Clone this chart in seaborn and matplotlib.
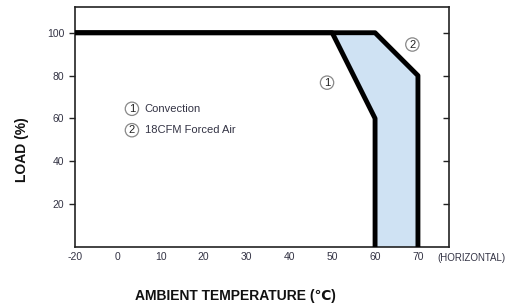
import numpy as np
import pandas as pd
import matplotlib
matplotlib.use('Agg')
import matplotlib.pyplot as plt
import seaborn as sns

# derating curves (ambient temperature vs load)
temp_conv = [-20, 50, 60, 60]
load_conv = [100, 100, 60, 0]
temp_air = [-20, 60, 70, 70]
load_air = [100, 100, 80, 0]

x_ticks = [-20, 0, 10, 20, 30, 40, 50, 60, 70]
y_ticks = [20, 40, 60, 80, 100]
legend_labels = ['Convection', '18CFM Forced Air']

sns.set_style('white')
plt.rcParams['font.family'] = ['Liberation Sans', 'DejaVu Sans']
plt.rcParams['axes.unicode_minus'] = False

fig = plt.figure(figsize=(5.06, 3.06), dpi=100)
ax = fig.add_axes([0.148, 0.193, 0.739, 0.784])

# the chart squeezes -20..0 into one tick step
def fwd(x):
    x = np.asarray(x, dtype=float)
    return np.where(x < 0, x / 2, x)

def inv(x):
    x = np.asarray(x, dtype=float)
    return np.where(x < 0, x * 2, x)

ax.set_xscale('function', functions=(fwd, inv))

# shaded area between the two curves
poly_x = temp_air[1:] + temp_conv[::-1][:-1]
poly_y = load_air[1:] + load_conv[::-1][:-1]
ax.fill(poly_x, poly_y, color='#cfe2f3', zorder=1)

df_conv = pd.DataFrame({'temp': temp_conv, 'load': load_conv})
df_air = pd.DataFrame({'temp': temp_air, 'load': load_air})
sns.lineplot(data=df_conv, x='temp', y='load', sort=False, estimator=None,
             color='black', linewidth=3.5, ax=ax, zorder=3)
sns.lineplot(data=df_air, x='temp', y='load', sort=False, estimator=None,
             color='black', linewidth=3.5, ax=ax, zorder=3)

ax.set_xlim(-20, 77.2)
ax.set_ylim(0, 112)

for s in ax.spines.values():
    s.set_color('#222222')
    s.set_linewidth(1.2)

ax.set_xticks(x_ticks)
ax.set_xticklabels([str(t) for t in x_ticks])
ax.minorticks_off()
ax.set_yticks(y_ticks)
ax.tick_params(axis='x', direction='in', length=4, width=1, colors='#222222',
               labelsize=7.5, labelcolor='#333344', pad=4)
ax.tick_params(axis='y', direction='out', length=4, width=1, colors='#222222',
               labelsize=7.5, labelcolor='#333344', left=True, right=False)
# right-side ticks pointing inward
ax2 = ax.secondary_yaxis('right')
ax2.set_yticks(y_ticks)
ax2.tick_params(direction='in', length=4, width=1, colors='#222222', labelright=False)
ax2.spines['right'].set_visible(False)

ax.set_xlabel('')
ax.set_ylabel('')

circ = dict(boxstyle='circle,pad=0.15', fc='white', ec='#888888', lw=0.9)
ax.text(3.3, 64.5, '1', fontsize=8, ha='center', va='center', bbox=circ, color='#222222')
ax.text(3.3, 54.5, '2', fontsize=8, ha='center', va='center', bbox=circ, color='#222222')
ax.text(6.3, 64.5, legend_labels[0], fontsize=8, ha='left', va='center', color='#333344')
ax.text(6.3, 54.5, legend_labels[1], fontsize=8, ha='left', va='center', color='#333344')
ax.text(48.8, 76.7, '1', fontsize=8, ha='center', va='center', bbox=circ, color='#222222')
ax.text(68.7, 94.5, '2', fontsize=8, ha='center', va='center', bbox=circ, color='#222222')

fig.text(437 / 506, 1 - 258 / 306, '(HORIZONTAL)', fontsize=7, ha='left', va='center',
         color='#333344')
fig.text(235 / 506, 1 - 296 / 306, 'AMBIENT TEMPERATURE (℃)', fontsize=10, fontweight='bold',
         ha='center', va='center', color='#111111')
fig.text(22 / 506, 1 - 150 / 306, 'LOAD (%)', fontsize=10, fontweight='bold', rotation=90,
         ha='center', va='center', color='#111111')

fig.savefig('out.png', dpi=100)
